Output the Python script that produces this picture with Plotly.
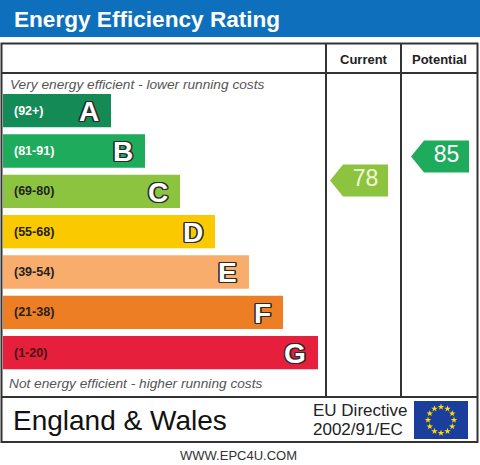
import math
import plotly.graph_objects as go

# rating bands, best to worst
bands = ["A", "B", "C", "D", "E", "F", "G"]
band_ranges = ["(92+)", "(81-91)", "(69-80)", "(55-68)", "(39-54)", "(21-38)", "(1-20)"]
bar_lengths = [108, 142, 177, 212, 246, 280, 315]
band_colors = ["#148a57", "#1fab5c", "#8cc43f", "#fbc900", "#f8ad6c", "#ee7e24", "#e61f3d"]
range_text_colors = ["white", "white", "#222222", "#222222", "#222222", "#222222", "#4a1414"]

# current / potential scores
score_labels = ["Current", "Potential"]
scores = [78, 85]
score_colors = ["#8cc43f", "#1fab5c"]
score_text_colors = ["#f4f8d8", "white"]

W, H = 480, 465
FONT = "Liberation Sans, Arial, sans-serif"
LINE = "#333333"

fig = go.Figure()

# rating bars
fig.add_trace(go.Bar(
    y=bands, x=bar_lengths, orientation="h",
    marker=dict(color=band_colors, line_width=0),
    xaxis="x2", yaxis="y2", hoverinfo="skip", showlegend=False,
))

# score arrows: tip x of each column's arrow (pixels)
col_left = [326, 401]
tip_x = [col_left[0] + 4, col_left[1] + 10]
arrow_len, tip_len, half_h = 58, 13, 16
fig.add_trace(go.Scatter(
    x=[t + (tip_len + arrow_len) / 2 for t in tip_x], y=scores,
    mode="text", text=[str(s) for s in scores],
    textfont=dict(family=FONT, size=23, color=score_text_colors),
    xaxis="x", yaxis="y3", hoverinfo="skip", showlegend=False,
))

# EU flag stars
cx, cy, r = 441, 420, 13
fig.add_trace(go.Scatter(
    x=[cx + r * math.cos(2 * math.pi * k / 12) for k in range(12)],
    y=[cy + r * math.sin(2 * math.pi * k / 12) for k in range(12)],
    mode="markers", marker=dict(symbol="star", size=5, color="#ffdd00", line_width=0),
    xaxis="x", yaxis="y", hoverinfo="skip", showlegend=False,
))

shapes = [
    dict(type="rect", xref="x", yref="y", x0=0, x1=W, y0=0, y1=37,
         fillcolor="#0e6fbd", line_width=0),
    dict(type="rect", xref="x", yref="y", x0=1.5, x1=477.5, y0=43.5, y1=442,
         line=dict(color=LINE, width=2)),
    dict(type="line", xref="x", yref="y", x0=1.5, x1=477.5, y0=73, y1=73,
         line=dict(color=LINE, width=2)),
    dict(type="line", xref="x", yref="y", x0=1.5, x1=477.5, y0=397, y1=397,
         line=dict(color=LINE, width=2)),
    dict(type="line", xref="x", yref="y", x0=326, x1=326, y0=43.5, y1=397,
         line=dict(color=LINE, width=2)),
    dict(type="line", xref="x", yref="y", x0=401, x1=401, y0=43.5, y1=397,
         line=dict(color=LINE, width=2)),
    dict(type="rect", xref="x", yref="y", x0=414, x1=468, y0=401, y1=439,
         fillcolor="#1b3d9c", line_width=0, layer="below"),
]
arrow_path = (f"M 0 0 L {tip_len} {half_h} L {arrow_len} {half_h} "
              f"L {arrow_len} {-half_h} L {tip_len} {-half_h} Z")
for t, s, c in zip(tip_x, scores, score_colors):
    shapes.append(dict(type="path", xref="x", yref="y3", xsizemode="pixel", ysizemode="pixel",
                       xanchor=t, yanchor=s, path=arrow_path, fillcolor=c, line_width=0,
                       layer="below"))

outline = ("-1.2px -1.2px 0 #2a2a2a, 1.2px -1.2px 0 #2a2a2a, -1.2px 1.2px 0 #2a2a2a, "
           "1.2px 1.2px 0 #2a2a2a, 0 1.4px 0 #2a2a2a, 0 -1.4px 0 #2a2a2a, "
           "1.4px 0 0 #2a2a2a, -1.4px 0 0 #2a2a2a")
annotations = []
for b, rng, ln, tc in zip(bands, band_ranges, bar_lengths, range_text_colors):
    annotations.append(dict(x=0, y=b, xref="x2", yref="y2", text=rng, showarrow=False,
                            xanchor="left", xshift=9,
                            font=dict(family=FONT, size=12.5, color=tc, weight="bold")))
    annotations.append(dict(x=ln, y=b, xref="x2", yref="y2", text=b, showarrow=False,
                            xanchor="right", xshift=-10, yshift=-1,
                            font=dict(family=FONT, size=28, color="white", weight="bold",
                                      shadow=outline)))

def txt(x, y, s, size, color="#222222", anchor="left", **kw):
    annotations.append(dict(x=x, y=y, xref="x", yref="y", text=s, showarrow=False,
                            xanchor=anchor, yanchor="middle",
                            font=dict(family=FONT, size=size, color=color, **kw)))

txt(12, 19, "Energy Efficiency Rating", 22.6, "white", weight="bold")
txt(363.5, 59, score_labels[0], 13, "#222222", "center", weight="bold")
txt(439, 59, score_labels[1], 13, "#222222", "center", weight="bold")
txt(8, 84, "Very energy efficient - lower running costs", 13.7, "#555555", style="italic")
txt(7, 383, "Not energy efficient - higher running costs", 13.7, "#555555", style="italic")
txt(11, 420, "England &amp; Wales", 28, "#111111")
txt(311, 410, "EU Directive", 17, "#222222")
txt(311, 429, "2002/91/EC", 17, "#222222")
txt(238.5, 455, "WWW.EPC4U.COM", 13, "#333333", "center")

# arrow value scale: pixel y = 447.9 - 3.4286 * score
px_per_pt, y_at_zero = 24 / 7, 447.9

fig.update_layout(
    width=W, height=H, margin=dict(l=0, r=0, t=0, b=0),
    paper_bgcolor="white", plot_bgcolor="rgba(0,0,0,0)",
    bargap=0.174, showlegend=False,
    xaxis=dict(range=[0, W], domain=[0, 1], visible=False, fixedrange=True),
    yaxis=dict(range=[H, 0], domain=[0, 1], visible=False, fixedrange=True),
    xaxis2=dict(range=[-3, W - 3], domain=[0, 1], anchor="y2", visible=False, fixedrange=True),
    yaxis2=dict(type="category", categoryorder="array", categoryarray=bands,
                range=[6.5, -0.5], domain=[1 - 372.8 / H, 1 - 90.5 / H],
                anchor="x2", visible=False, fixedrange=True),
    yaxis3=dict(range=[(y_at_zero - H) / px_per_pt, y_at_zero / px_per_pt], domain=[0, 1],
                anchor="x", overlaying="y", visible=False, fixedrange=True),
    shapes=shapes, annotations=annotations,
)

fig.write_html("out.html", config={"displayModeBar": False},
               post_script="document.body.style.margin='0';")
